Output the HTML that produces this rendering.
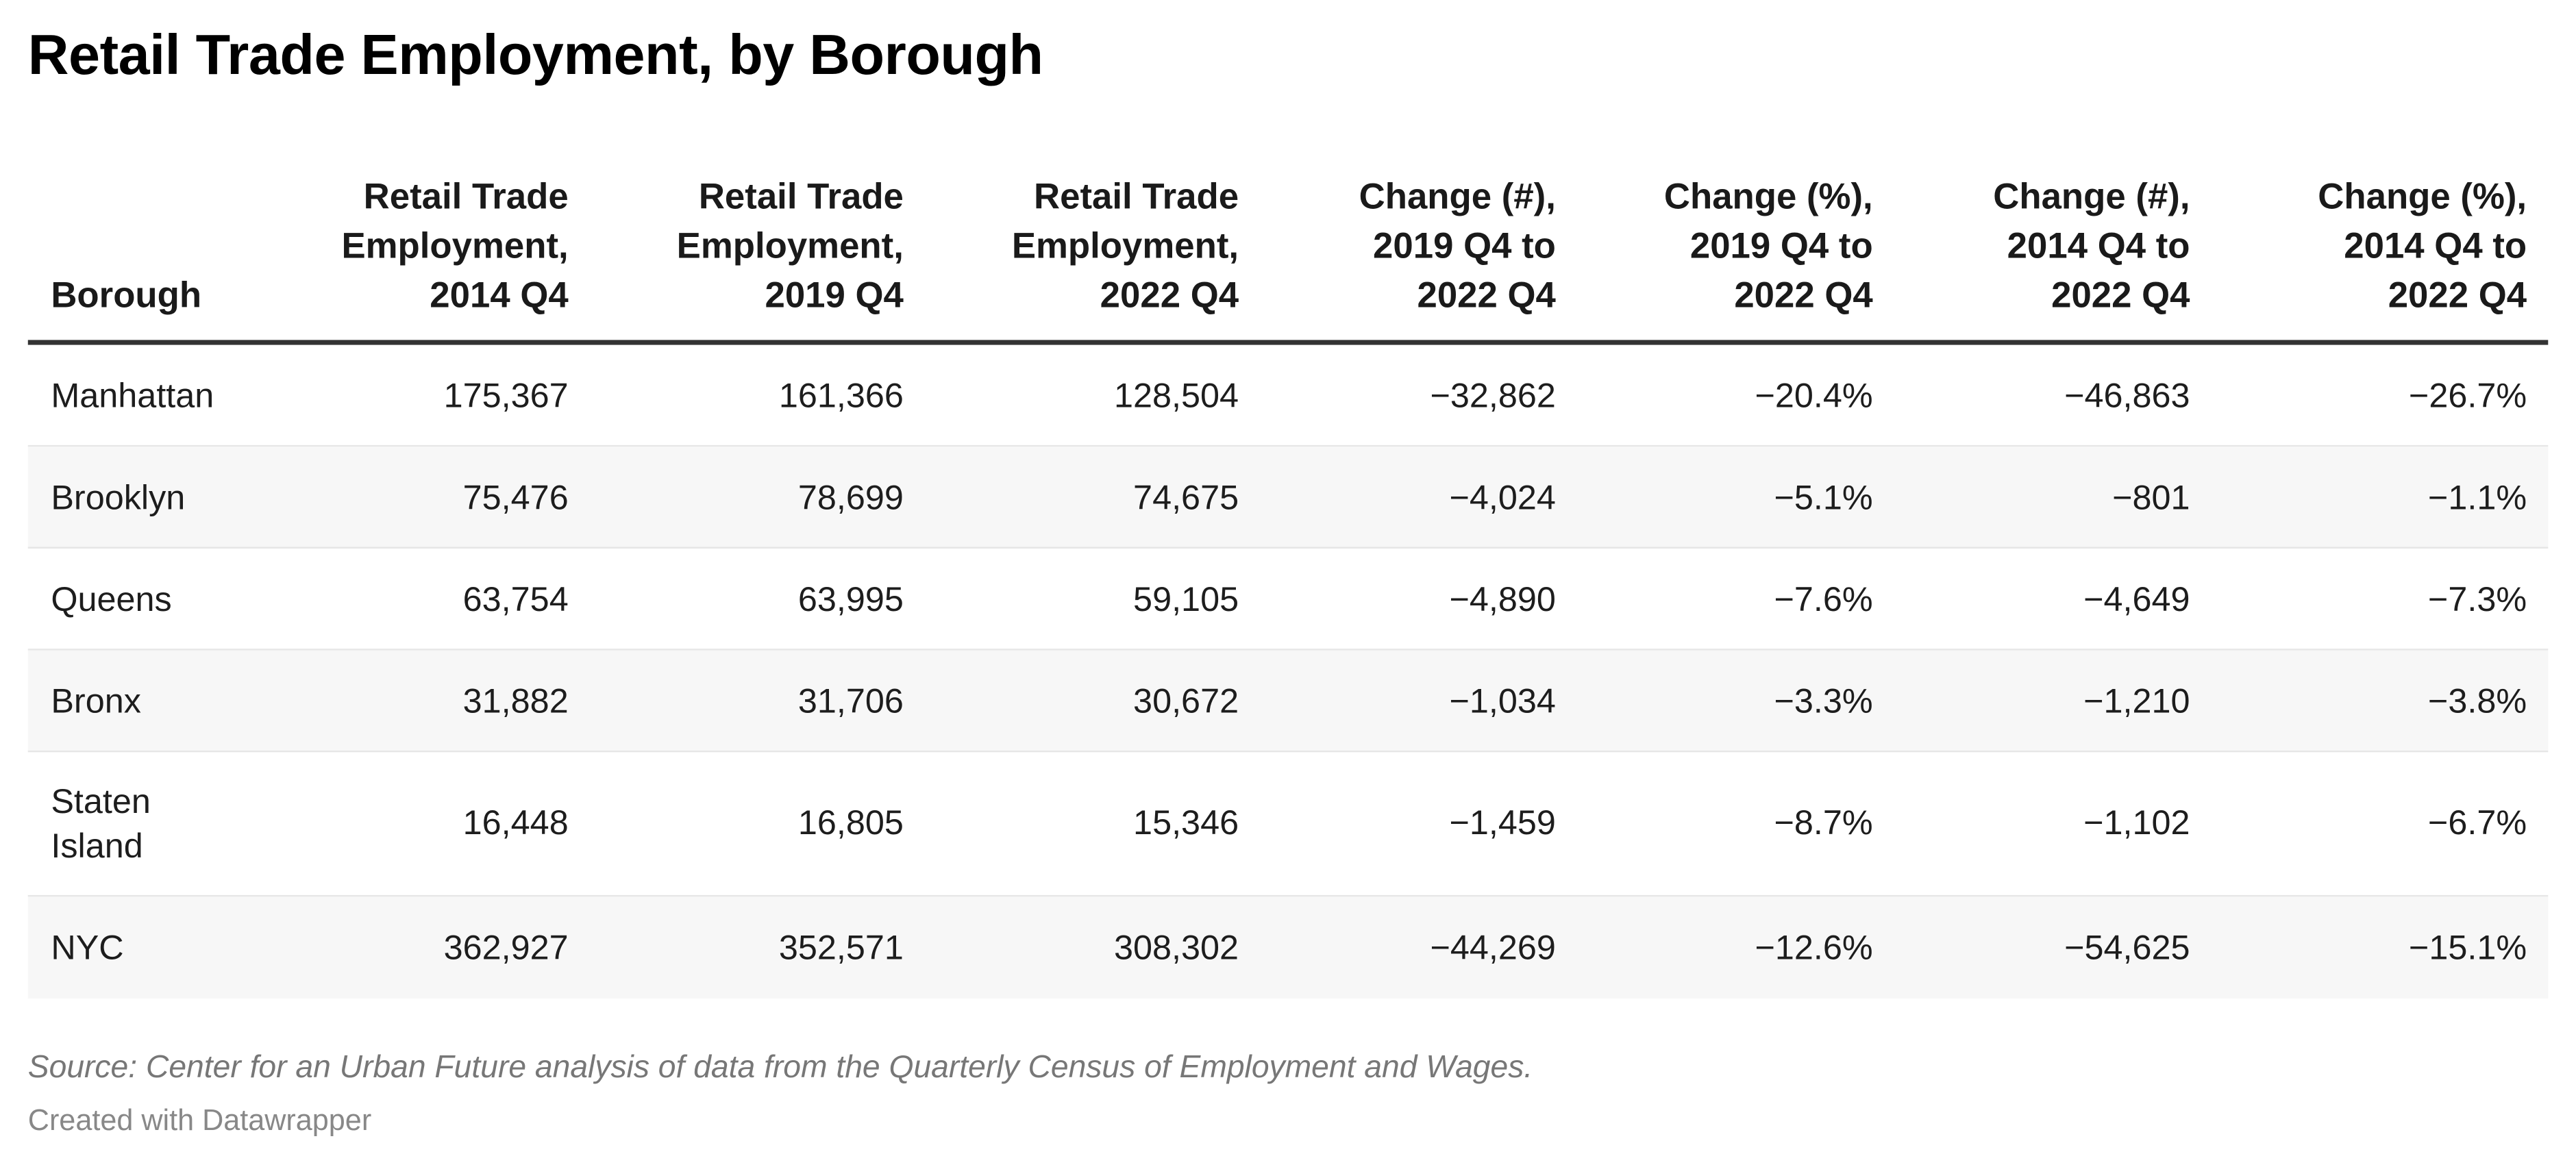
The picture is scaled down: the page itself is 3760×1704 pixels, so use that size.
<!DOCTYPE html>
<html><head><meta charset="utf-8"><style>
html,body{margin:0;padding:0;background:#fff;width:3760px;height:1704px;overflow:hidden}
#w{position:absolute;left:0;top:0;width:1568px;height:710px;transform:scale(2.398);transform-origin:0 0;font-family:"Liberation Sans",sans-serif;color:#1d1d1d}
.t{position:absolute;left:17px;top:15px;font-size:34.5px;font-weight:bold;color:#000;letter-spacing:-0.2px}
.h{position:absolute;font-weight:bold;font-size:22px;line-height:30px;text-align:right;color:#1a1a1a}
.rule{position:absolute;left:17px;width:1534px;top:207px;height:3px;background:#333}
.row{position:absolute;left:17px;width:1534px;border-bottom:1px solid #e6e6e6;box-sizing:border-box}
.s{background:#f7f7f7}
.c{position:absolute;font-size:21px;line-height:27px;text-align:right}
.src{position:absolute;left:17px;top:640px;font-size:19.3px;font-style:italic;color:#777}
.cr{position:absolute;left:17px;top:672px;font-size:18px;color:#888}
</style></head><body><div id="w">
<div class="t">Retail Trade Employment, by Borough</div>
<div class="h" style="left:31px;top:165px;text-align:left">Borough</div>
<div class="h" style="right:1222px;top:105px">Retail Trade<br>Employment,<br>2014 Q4</div>
<div class="h" style="right:1018px;top:105px">Retail Trade<br>Employment,<br>2019 Q4</div>
<div class="h" style="right:814px;top:105px">Retail Trade<br>Employment,<br>2022 Q4</div>
<div class="h" style="right:621px;top:105px">Change (#),<br>2019 Q4 to<br>2022 Q4</div>
<div class="h" style="right:428px;top:105px">Change (%),<br>2019 Q4 to<br>2022 Q4</div>
<div class="h" style="right:235px;top:105px">Change (#),<br>2014 Q4 to<br>2022 Q4</div>
<div class="h" style="right:30px;top:105px">Change (%),<br>2014 Q4 to<br>2022 Q4</div>
<div class="rule"></div>
<div class="row" style="top:210px;height:62px"></div>
<div class="row s" style="top:272px;height:62px"></div>
<div class="row" style="top:334px;height:62px"></div>
<div class="row s" style="top:396px;height:62px"></div>
<div class="row" style="top:458px;height:88px"></div>
<div class="row s" style="top:546px;height:62px;border-bottom:none"></div>
<div id="cells"></div>
<div class="src">Source: Center for an Urban Future analysis of data from the Quarterly Census of Employment and Wages.</div>
<div class="cr">Created with Datawrapper</div>
</div>
<script>
var rows=[["Manhattan","175,367","161,366","128,504","−32,862","−20.4%","−46,863","−26.7%",242],
["Brooklyn","75,476","78,699","74,675","−4,024","−5.1%","−801","−1.1%",304],
["Queens","63,754","63,995","59,105","−4,890","−7.6%","−4,649","−7.3%",366],
["Bronx","31,882","31,706","30,672","−1,034","−3.3%","−1,210","−3.8%",428],
["Staten<br>Island","16,448","16,805","15,346","−1,459","−8.7%","−1,102","−6.7%",502],
["NYC","362,927","352,571","308,302","−44,269","−12.6%","−54,625","−15.1%",578]];
var rights=[1222,1018,814,621,428,235,30],h="";
rows.forEach(function(r){var y=r[8];
var t0=r[0].indexOf("<br>")>=0?y-27:y-14;
h+='<div class="c" style="left:31px;text-align:left;top:'+t0+'px">'+r[0]+'</div>';
for(var i=1;i<8;i++)h+='<div class="c" style="right:'+rights[i-1]+'px;top:'+(y-14)+'px">'+r[i]+'</div>';});
document.getElementById("cells").innerHTML=h;
</script>
</body></html>
